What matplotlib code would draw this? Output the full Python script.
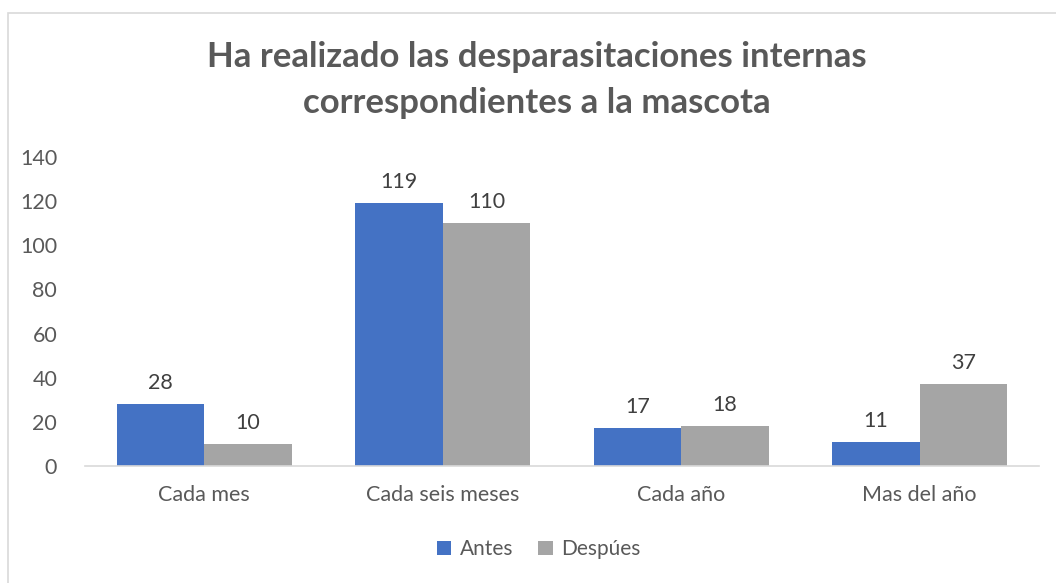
import numpy as np
import matplotlib.pyplot as plt
from matplotlib.patches import Rectangle

plt.rcParams['font.family'] = ['Lato', 'DejaVu Sans']

categorias = ['Cada mes', 'Cada seis meses', 'Cada año', 'Mas del año']
antes = [28, 119, 17, 11]
despues = [10, 110, 18, 37]

txt = '#595959'
fig = plt.figure(figsize=(10.56, 5.83), dpi=100)
ax = fig.add_axes([0.0805, 0.2007, 0.9034, 0.530])

x = np.arange(len(categorias))
w = 0.366
b1 = ax.bar(x - w / 2, antes, w, color='#4472C4', label='Antes')
b2 = ax.bar(x + w / 2, despues, w, color='#A5A5A5', label='Despúes')
for bars in (b1, b2):
    ax.bar_label(bars, padding=8, fontsize=15.5, color='#404040')

ax.set_xlim(-0.5, 3.5)
ax.set_ylim(0, 140)
ax.set_yticks(range(0, 141, 20))
ax.set_xticks(x)
ax.set_xticklabels(categorias)
ax.tick_params(axis='both', length=0, labelsize=15.5, labelcolor=txt)
ax.tick_params(axis='y', pad=20)
ax.tick_params(axis='x', pad=14)
for s in ['top', 'right', 'left']:
    ax.spines[s].set_visible(False)
ax.spines['bottom'].set_color('#D9D9D9')
ax.spines['bottom'].set_linewidth(1.2)

fig.text(0.508, 0.863, 'Ha realizado las desparasitaciones internas\ncorrespondientes a la mascota',
         ha='center', va='center', fontsize=25, fontweight='bold', color=txt,
         linespacing=1.55)

fig.legend(handles=[b1, b2], loc='center', bbox_to_anchor=(0.51, 0.058), ncol=2,
           frameon=False, fontsize=15, labelcolor=txt, handlelength=0.7,
           handleheight=0.7, handletextpad=0.4, columnspacing=1.2)

fig.patches.append(Rectangle((8 / 1056, -0.1), 1.2, 0.1 + 1 - 13 / 583,
                             transform=fig.transFigure, fill=False,
                             edgecolor='#D9D9D9', linewidth=1.2))

fig.savefig('out.png')
